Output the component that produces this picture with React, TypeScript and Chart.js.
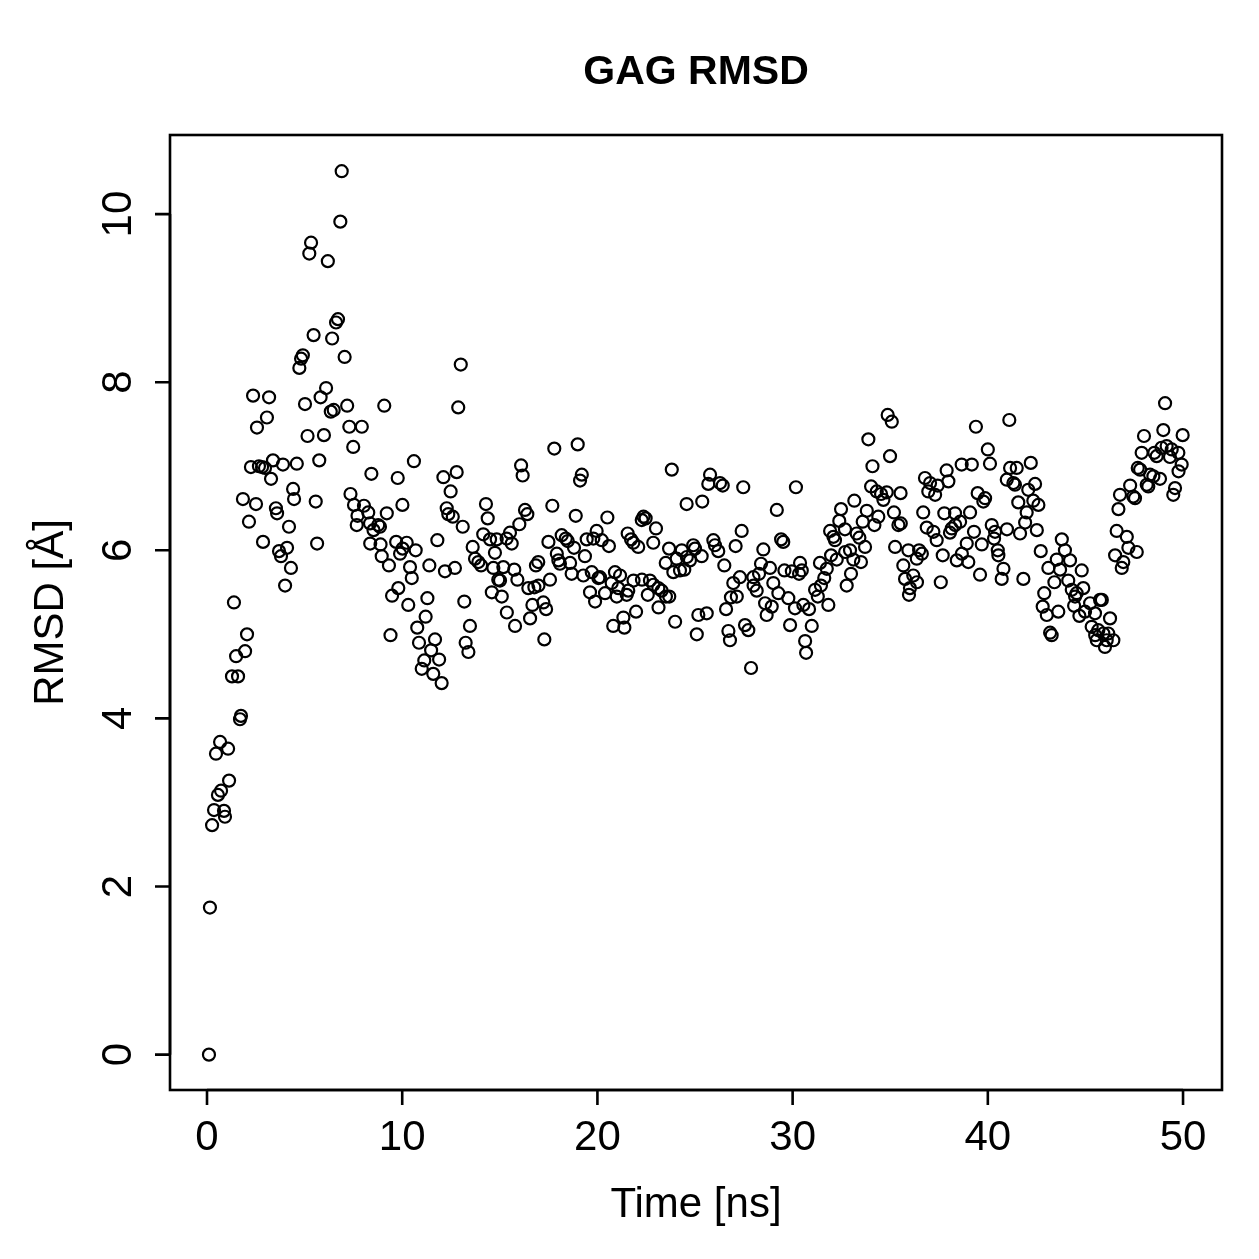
import React, { useEffect, useRef } from "react";
import { Chart, registerables } from "chart.js";

Chart.register(...registerables);

const chartTitle = "GAG RMSD";
const xTitle = "Time [ns]";
const yTitle = "RMSD [Å]";
const xTicks = [0, 10, 20, 30, 40, 50];
const yTicks = [0, 2, 4, 6, 8, 10];
const xRange = [-1.896, 51.996];
const yRange = [-0.4208, 10.9408];

// Time [ns] and RMSD [Å], 0-10 ns
const time0to10 = [0.1, 0.15, 0.26, 0.36, 0.46, 0.56, 0.67, 0.72, 0.87, 0.92, 1.08, 1.13, 1.28, 1.38, 1.49, 1.59, 1.69, 1.74, 1.84, 1.95, 2.05, 2.15, 2.25, 2.36, 2.51, 2.56, 2.66, 2.82, 2.87, 2.97, 3.07, 3.18, 3.28, 3.38, 3.53, 3.59, 3.69, 3.79, 3.89, 4.0, 4.1, 4.2, 4.3, 4.41, 4.46, 4.6, 4.73, 4.82, 4.91, 5.02, 5.15, 5.24, 5.33, 5.46, 5.57, 5.64, 5.75, 5.82, 5.99, 6.1, 6.19, 6.34, 6.41, 6.49, 6.61, 6.71, 6.83, 6.9, 7.05, 7.18, 7.29, 7.35, 7.49, 7.53, 7.67, 7.71, 7.93, 8.04, 8.26, 8.35, 8.36, 8.42, 8.53, 8.77, 8.86, 8.89, 8.95, 9.08, 9.21, 9.32, 9.4, 9.48, 9.69, 9.77, 9.8, 9.89];
const rmsd0to10 = [0, 1.75, 2.73, 2.91, 3.58, 3.09, 3.72, 3.14, 2.9, 2.83, 3.64, 3.26, 4.5, 5.38, 4.74, 4.5, 3.99, 4.03, 6.61, 4.8, 5.0, 6.34, 6.99, 7.84, 6.55, 7.46, 7.0, 6.99, 6.1, 6.98, 7.58, 7.82, 6.85, 7.07, 6.5, 6.44, 5.99, 5.93, 7.02, 5.58, 6.03, 6.28, 5.79, 6.73, 6.61, 7.03, 8.17, 8.28, 8.32, 7.74, 7.36, 9.53, 9.66, 8.56, 6.58, 6.08, 7.07, 7.82, 7.37, 7.93, 9.44, 7.65, 8.52, 7.67, 8.71, 8.75, 9.91, 10.51, 8.3, 7.72, 7.47, 6.67, 7.23, 6.54, 6.3, 6.41, 7.47, 6.53, 6.45, 6.32, 6.08, 6.91, 6.24, 6.3, 6.28, 6.07, 5.93, 7.72, 6.44, 5.82, 4.99, 5.46, 6.1, 6.86, 5.55, 5.96];

// 10-20 ns
const time10to20 = [10.01, 10.02, 10.23, 10.31, 10.4, 10.49, 10.6, 10.69, 10.77, 10.86, 11.0, 11.13, 11.2, 11.29, 11.39, 11.48, 11.59, 11.68, 11.8, 11.89, 12.02, 12.11, 12.19, 12.28, 12.36, 12.48, 12.59, 12.7, 12.79, 12.87, 13.0, 13.1, 13.18, 13.25, 13.39, 13.47, 13.61, 13.73, 13.9, 14.04, 14.15, 14.29, 14.38, 14.5, 14.59, 14.67, 14.75, 14.84, 14.92, 15.01, 15.1, 15.18, 15.35, 15.36, 15.52, 15.61, 15.74, 15.78, 15.9, 16.0, 16.09, 16.17, 16.29, 16.41, 16.46, 16.55, 16.67, 16.77, 16.85, 16.97, 16.98, 17.23, 17.28, 17.37, 17.49, 17.57, 17.69, 17.79, 17.92, 18.0, 18.08, 18.17, 18.38, 18.48, 18.6, 18.68, 18.8, 18.89, 18.99, 19.11, 19.2, 19.28, 19.36, 19.45, 19.62, 19.71, 19.79, 19.88, 19.96];
const rmsd10to20 = [6.54, 6.02, 6.09, 5.35, 5.8, 5.67, 7.06, 6.0, 5.08, 4.9, 4.59, 4.69, 5.21, 5.43, 5.82, 4.81, 4.53, 4.94, 6.12, 4.7, 4.42, 6.87, 5.75, 6.5, 6.43, 6.7, 6.4, 5.79, 6.93, 7.7, 8.21, 6.28, 5.39, 4.9, 4.79, 5.1, 6.04, 5.9, 5.86, 5.82, 6.19, 6.55, 6.38, 6.13, 5.5, 5.79, 5.97, 6.13, 5.65, 5.64, 5.45, 5.8, 6.14, 5.26, 6.21, 6.08, 5.77, 5.1, 5.65, 6.31, 7.01, 6.89, 6.48, 6.43, 5.55, 5.19, 5.35, 5.56, 5.82, 5.86, 5.58, 5.38, 4.94, 5.3, 6.1, 5.65, 6.53, 7.21, 5.96, 5.88, 5.84, 6.18, 6.14, 6.11, 5.85, 5.72, 6.03, 6.41, 7.26, 6.83, 6.9, 5.7, 5.93, 6.13, 5.5, 5.74, 6.14, 5.39, 6.23];

// 20-30 ns
const time20to30 = [20.05, 20.13, 20.22, 20.39, 20.51, 20.59, 20.73, 20.81, 20.9, 20.99, 21.07, 21.16, 21.33, 21.38, 21.5, 21.55, 21.58, 21.72, 21.84, 21.85, 21.98, 22.09, 22.27, 22.28, 22.36, 22.47, 22.58, 22.69, 22.86, 22.87, 23.0, 23.12, 23.13, 23.29, 23.5, 23.51, 23.67, 23.68, 23.81, 23.89, 23.98, 24.06, 24.23, 24.32, 24.45, 24.57, 24.58, 24.74, 24.91, 25.0, 25.09, 25.17, 25.34, 25.37, 25.6, 25.68, 25.77, 25.94, 26.02, 26.19, 26.28, 26.42, 26.5, 26.59, 26.71, 26.79, 26.84, 26.96, 27.08, 27.14, 27.3, 27.39, 27.47, 27.56, 27.73, 27.87, 27.99, 28.0, 28.16, 28.28, 28.38, 28.5, 28.59, 28.67, 28.84, 28.93, 29.01, 29.19, 29.27, 29.41, 29.52, 29.58, 29.78, 29.87, 29.96];
const rmsd20to30 = [5.67, 5.68, 6.12, 5.49, 6.39, 6.05, 5.61, 5.1, 5.74, 5.45, 5.55, 5.7, 5.2, 5.08, 5.47, 6.2, 5.52, 6.13, 6.09, 5.64, 5.27, 6.04, 6.36, 5.65, 6.4, 6.38, 5.47, 5.64, 6.09, 5.59, 6.26, 5.55, 5.32, 5.52, 5.85, 5.45, 6.02, 5.45, 6.96, 5.74, 5.15, 5.9, 5.76, 6.0, 5.77, 6.55, 5.92, 5.88, 6.06, 6.02, 5.0, 5.23, 5.93, 6.58, 5.25, 6.79, 6.9, 6.12, 6.06, 5.99, 6.8, 6.77, 5.82, 5.3, 5.04, 4.93, 5.44, 5.61, 6.05, 5.45, 5.68, 6.23, 6.75, 5.11, 5.05, 4.6, 5.68, 5.58, 5.52, 5.72, 5.84, 6.01, 5.37, 5.23, 5.79, 5.33, 5.61, 6.48, 5.49, 6.13, 6.1, 5.76, 5.43, 5.11, 5.75];

// 30-40 ns
const time30to40 = [30.12, 30.17, 30.33, 30.38, 30.47, 30.55, 30.64, 30.69, 30.84, 30.98, 31.15, 31.29, 31.4, 31.45, 31.62, 31.75, 31.83, 31.92, 31.97, 32.09, 32.17, 32.26, 32.39, 32.48, 32.68, 32.69, 32.77, 32.94, 32.99, 33.11, 33.16, 33.28, 33.42, 33.5, 33.59, 33.71, 33.8, 33.88, 34.02, 34.09, 34.19, 34.31, 34.39, 34.53, 34.65, 34.82, 34.87, 34.99, 35.08, 35.19, 35.25, 35.42, 35.53, 35.54, 35.67, 35.76, 35.93, 35.96, 36.01, 36.18, 36.36, 36.37, 36.48, 36.62, 36.69, 36.78, 36.87, 36.95, 37.04, 37.21, 37.3, 37.38, 37.43, 37.59, 37.69, 37.77, 37.89, 37.98, 38.06, 38.15, 38.32, 38.33, 38.41, 38.58, 38.66, 38.67, 38.92, 39.0, 39.09, 39.18, 39.29, 39.39, 39.48, 39.6, 39.69, 39.77, 39.86];
const rmsd30to40 = [5.31, 6.75, 5.72, 5.85, 5.76, 5.35, 4.92, 4.78, 5.3, 5.1, 5.53, 5.45, 5.85, 5.58, 5.67, 5.78, 5.35, 6.23, 5.94, 6.16, 6.12, 5.89, 6.35, 6.49, 6.25, 5.98, 5.58, 6.0, 5.72, 5.89, 6.59, 6.2, 6.15, 5.86, 6.34, 6.04, 6.47, 7.32, 6.76, 7.0, 6.3, 6.7, 6.4, 6.67, 6.6, 6.69, 7.61, 7.12, 7.53, 6.45, 6.04, 6.3, 6.68, 6.32, 5.82, 5.66, 6.0, 5.47, 5.55, 5.7, 5.9, 5.62, 6.0, 5.96, 6.45, 6.86, 6.27, 6.7, 6.8, 6.22, 6.66, 6.12, 6.77, 5.62, 5.94, 6.44, 6.95, 6.82, 6.21, 6.26, 6.44, 6.3, 5.88, 6.34, 7.02, 5.96, 6.08, 5.86, 6.45, 7.02, 6.22, 7.47, 6.68, 5.71, 6.07, 6.58, 6.62];

// 40-50 ns
const time40to50 = [40.0, 40.11, 40.2, 40.32, 40.37, 40.51, 40.54, 40.71, 40.8, 40.97, 40.98, 41.1, 41.14, 41.31, 41.39, 41.48, 41.56, 41.65, 41.82, 41.91, 41.99, 42.07, 42.2, 42.33, 42.42, 42.51, 42.59, 42.71, 42.81, 42.89, 43.02, 43.1, 43.19, 43.27, 43.41, 43.53, 43.61, 43.7, 43.79, 43.95, 44.12, 44.21, 44.3, 44.42, 44.47, 44.55, 44.69, 44.81, 44.89, 44.98, 45.24, 45.32, 45.49, 45.5, 45.58, 45.66, 45.75, 45.84, 45.92, 46.0, 46.09, 46.17, 46.26, 46.43, 46.52, 46.6, 46.69, 46.77, 46.86, 46.94, 47.12, 47.2, 47.29, 47.45, 47.54, 47.63, 47.68, 47.8, 47.88, 48.0, 48.14, 48.22, 48.31, 48.48, 48.53, 48.65, 48.82, 48.9, 48.99, 49.08, 49.16, 49.33, 49.42, 49.5, 49.59, 49.76, 49.77, 49.93, 49.98];
const rmsd40to50 = [7.2, 7.03, 6.3, 6.14, 6.22, 6.0, 5.94, 5.66, 5.78, 6.84, 6.25, 7.55, 6.98, 6.8, 6.78, 6.98, 6.57, 6.2, 5.66, 6.33, 6.45, 6.72, 7.04, 6.59, 6.79, 6.24, 6.54, 5.99, 5.33, 5.49, 5.23, 5.79, 5.02, 4.99, 5.62, 5.89, 5.27, 5.77, 6.13, 6.0, 5.64, 5.88, 5.53, 5.34, 5.45, 5.49, 5.22, 5.76, 5.55, 5.27, 5.37, 5.09, 5.25, 4.99, 4.93, 5.05, 5.41, 5.41, 5.01, 4.85, 4.93, 5.01, 5.19, 4.93, 5.94, 6.23, 6.49, 6.66, 5.79, 5.86, 6.16, 6.03, 6.77, 6.64, 6.62, 5.98, 6.98, 6.96, 7.16, 7.36, 6.78, 6.76, 6.9, 6.88, 7.16, 7.12, 6.85, 7.22, 7.43, 7.75, 7.24, 7.11, 7.2, 6.66, 6.74, 7.16, 6.94, 7.02, 7.37];

const allTimes = [...time0to10, ...time10to20, ...time20to30, ...time30to40, ...time40to50];
const allRmsd = [...rmsd0to10, ...rmsd10to20, ...rmsd20to30, ...rmsd30to40, ...rmsd40to50];

const FONT = "'Liberation Sans', Arial, Helvetica, sans-serif";

const rFramePlugin = {
  id: "rFrame",
  beforeDraw(chart: any) {
    const ctx = chart.ctx;
    ctx.save();
    ctx.fillStyle = "#ffffff";
    ctx.fillRect(0, 0, chart.width, chart.height);
    ctx.restore();
  },
  afterDraw(chart: any) {
    const ctx = chart.ctx;
    const { left, right, top, bottom } = chart.chartArea;
    const xs = chart.scales.x;
    const ys = chart.scales.y;
    ctx.save();
    ctx.strokeStyle = "#000";
    ctx.fillStyle = "#000";
    ctx.lineWidth = 2.6;
    ctx.lineCap = "butt";
    ctx.strokeRect(left, top, right - left, bottom - top);

    const tl = 15;
    ctx.beginPath();
    const x0 = xs.getPixelForValue(xTicks[0]);
    const x1 = xs.getPixelForValue(xTicks[xTicks.length - 1]);
    ctx.moveTo(x0, bottom);
    ctx.lineTo(x1, bottom);
    xTicks.forEach((v) => {
      const px = xs.getPixelForValue(v);
      ctx.moveTo(px, bottom);
      ctx.lineTo(px, bottom + tl);
    });
    const y0 = ys.getPixelForValue(yTicks[0]);
    const y1 = ys.getPixelForValue(yTicks[yTicks.length - 1]);
    ctx.moveTo(left, y0);
    ctx.lineTo(left, y1);
    yTicks.forEach((v) => {
      const py = ys.getPixelForValue(v);
      ctx.moveTo(left, py);
      ctx.lineTo(left - tl, py);
    });
    ctx.stroke();

    ctx.font = `42px ${FONT}`;
    ctx.textAlign = "center";
    ctx.textBaseline = "alphabetic";
    xTicks.forEach((v) => {
      const px = xs.getPixelForValue(v);
      ctx.fillText(String(v), px, bottom + 60);
    });
    yTicks.forEach((v) => {
      const py = ys.getPixelForValue(v);
      ctx.save();
      ctx.translate(left - 39, py);
      ctx.rotate(-Math.PI / 2);
      ctx.fillText(String(v), 0, 0);
      ctx.restore();
    });

    ctx.fillText(xTitle, (left + right) / 2, bottom + 127);
    ctx.save();
    ctx.translate(left - 107, (top + bottom) / 2);
    ctx.rotate(-Math.PI / 2);
    ctx.fillText(yTitle, 0, 0);
    ctx.restore();

    ctx.font = `bold 41px ${FONT}`;
    ctx.fillText(chartTitle, (left + right) / 2, 84);
    ctx.restore();
  },
};

export default function App() {
  const canvasRef = useRef<HTMLCanvasElement | null>(null);

  useEffect(() => {
    const canvas = canvasRef.current;
    if (!canvas) return;
    const points = allTimes.map((t, i) => ({ x: t, y: allRmsd[i] }));
    const chart = new Chart(canvas, {
      type: "scatter",
      data: {
        datasets: [
          {
            data: points,
            pointStyle: "circle",
            pointRadius: 6,
            pointBorderWidth: 2.2,
            pointBorderColor: "#000",
            pointBackgroundColor: "rgba(0,0,0,0)",
            showLine: false,
          },
        ],
      },
      options: {
        responsive: false,
        animation: false,
        devicePixelRatio: 1,
        layout: { padding: { top: 135, right: 37, left: 0, bottom: 0 } },
        plugins: {
          legend: { display: false },
          tooltip: { enabled: false },
          title: { display: false },
        },
        scales: {
          x: {
            type: "linear",
            min: xRange[0],
            max: xRange[1],
            grid: { display: false },
            border: { display: false },
            ticks: { display: false },
            afterFit: (scale: any) => {
              scale.height = 169;
            },
          },
          y: {
            type: "linear",
            min: yRange[0],
            max: yRange[1],
            grid: { display: false },
            border: { display: false },
            ticks: { display: false },
            afterFit: (scale: any) => {
              scale.width = 170;
            },
          },
        },
      },
      plugins: [rFramePlugin],
    });
    return () => chart.destroy();
  }, []);

  return (
    <div style={{ position: "absolute", left: 0, top: 0, width: 1259, height: 1259, background: "#fff" }}>
      <canvas ref={canvasRef} width={1259} height={1259} style={{ width: 1259, height: 1259, display: "block" }} />
    </div>
  );
}
